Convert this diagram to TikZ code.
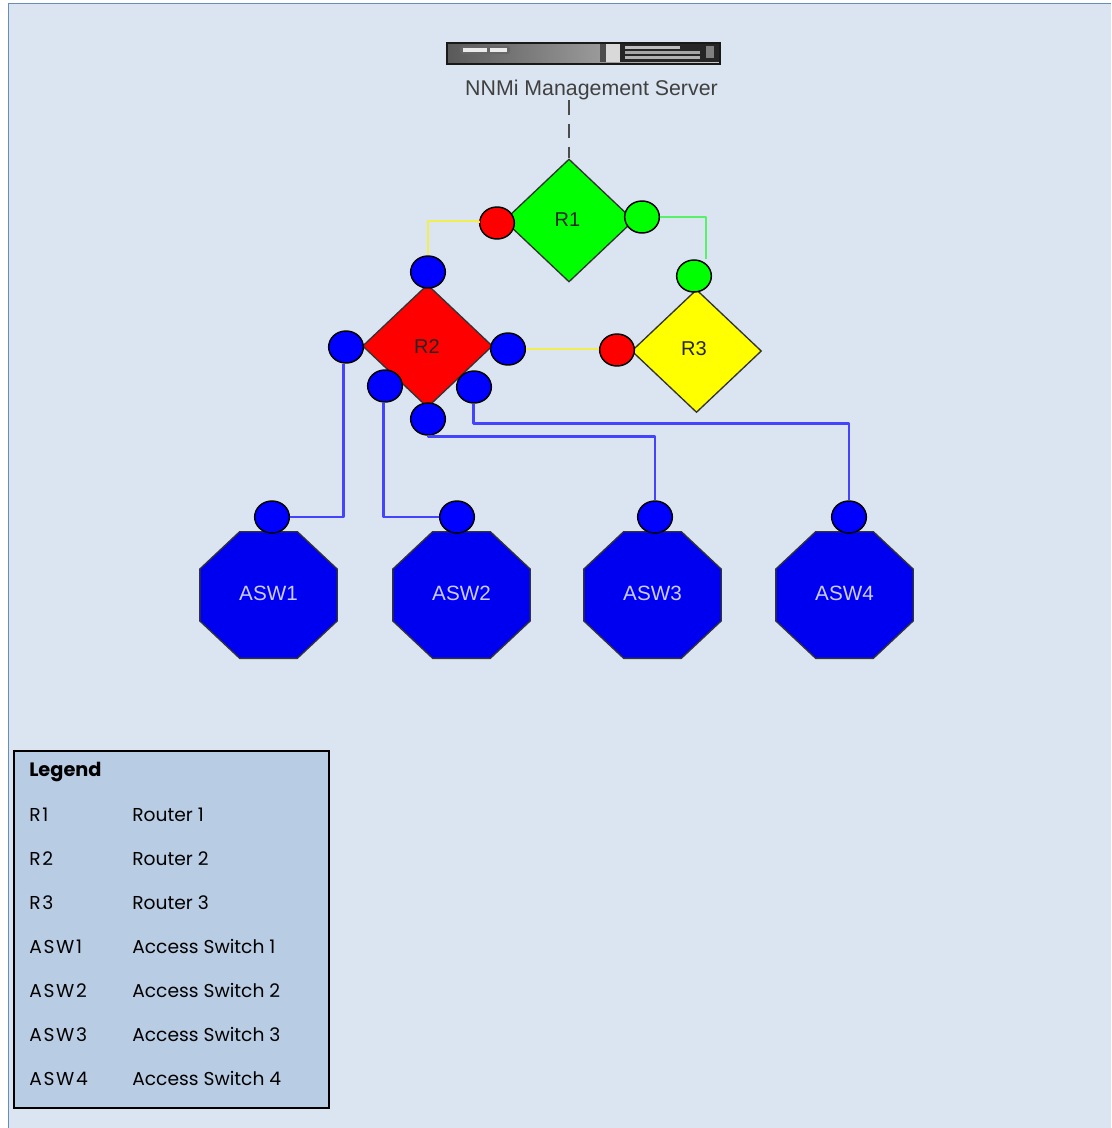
\documentclass[tikz,border=0pt]{standalone}
\usepackage{fontspec}
\setmainfont{Liberation Sans}
\newfontfamily\legendfont{Poppins}
\newfontfamily\legendkeyfont[LetterSpace=9]{Poppins}
\usetikzlibrary{shapes.geometric}
\definecolor{bgblue}{HTML}{DBE5F1}
\definecolor{legblue}{HTML}{B8CCE4}
\definecolor{framec}{HTML}{6A8CBA}
\definecolor{linkblue}{HTML}{4444FF}
\definecolor{linkyellow}{HTML}{F0EE50}
\definecolor{linkgreen}{HTML}{58F068}
\definecolor{asw}{HTML}{0000F0}
\definecolor{pure red}{HTML}{FF0000}
\definecolor{pure green}{HTML}{00FF00}
\definecolor{pure yellow}{HTML}{FFFF00}
\definecolor{pure blue}{HTML}{0000FF}
\makeatletter
\pgfdeclareshape{octobox}{%
  \inheritsavedanchors[from=rectangle]
  \inheritanchorborder[from=rectangle]
  \inheritanchor[from=rectangle]{center}
  \inheritanchor[from=rectangle]{north}
  \inheritanchor[from=rectangle]{south}
  \inheritanchor[from=rectangle]{west}
  \inheritanchor[from=rectangle]{east}
  \backgroundpath{%
    \southwest\pgf@xa=\pgf@x \pgf@ya=\pgf@y
    \northeast\pgf@xb=\pgf@x \pgf@yb=\pgf@y
    \pgf@xc=\pgf@xb \advance\pgf@xc by -\pgf@xa \pgf@xc=0.29\pgf@xc
    \pgf@yc=\pgf@yb \advance\pgf@yc by -\pgf@ya \pgf@yc=0.295\pgf@yc
    \pgfpathmoveto{\pgfqpoint{\dimexpr\pgf@xa+\pgf@xc}{\pgf@yb}}
    \pgfpathlineto{\pgfqpoint{\dimexpr\pgf@xb-\pgf@xc}{\pgf@yb}}
    \pgfpathlineto{\pgfqpoint{\pgf@xb}{\dimexpr\pgf@yb-\pgf@yc}}
    \pgfpathlineto{\pgfqpoint{\pgf@xb}{\dimexpr\pgf@ya+\pgf@yc}}
    \pgfpathlineto{\pgfqpoint{\dimexpr\pgf@xb-\pgf@xc}{\pgf@ya}}
    \pgfpathlineto{\pgfqpoint{\dimexpr\pgf@xa+\pgf@xc}{\pgf@ya}}
    \pgfpathlineto{\pgfqpoint{\pgf@xa}{\dimexpr\pgf@ya+\pgf@yc}}
    \pgfpathlineto{\pgfqpoint{\pgf@xa}{\dimexpr\pgf@yb-\pgf@yc}}
    \pgfpathclose}}
\makeatother
\tikzset{
  x=0.75pt,y=-0.75pt,
  router/.style={diamond,draw=black!80,line width=1pt,inner sep=0pt,minimum width=97.5pt,minimum height=92.25pt},
  routertext/.style={inner sep=0pt,font=\fontsize{15}{15}\selectfont,text=black!85},
  switchbox/.style={octobox,draw=black!80,fill=asw,line width=1pt,inner sep=0pt,minimum width=102pt,minimum height=94pt,font=\fontsize{15.5}{16}\selectfont,text=blue!20,text depth=3pt},
  port/.style={ellipse,draw=black,line width=1.1pt,inner sep=0pt,minimum width=26pt,minimum height=24pt},
  blueport/.style={port,fill=pure blue},
  redport/.style={port,fill=pure red},
  greenport/.style={port,fill=pure green},
  link/.style={line width=2.2pt,line join=round},
  leg/.style={anchor=base west,inner sep=0pt,font=\legendfont\fontsize{14}{16}\selectfont,text=black},
  legkey/.style={anchor=base west,inner sep=0pt,font=\legendkeyfont\fontsize{14}{16}\selectfont,text=black},
}
\begin{document}
\begin{tikzpicture}
\useasboundingbox (0,0) rectangle (1111,1128);
\fill[white] (0,0) rectangle (1111,1128);
\fill[bgblue] (8.5,3.5) rectangle (1111,1128);
\draw[framec,line width=1.2pt] (1111,3.5) -- (8.5,3.5) -- (8.5,1128);
% server
\node[draw=black!90,line width=1.5pt,inner sep=0pt,minimum width=204.75pt,minimum height=15.75pt,left color=black!65,right color=black!20] (srv) at (583.5,53) {};
\fill[black!60,rounded corners=2pt] (460,46) rectangle (510,54);
\fill[black!8] (463,48) rectangle (487,52);
\fill[black!8] (490,48) rectangle (507,52);
\fill[black!70] (600,44) rectangle (606,62);
\fill[black!15] (606,44) rectangle (620,62);
\fill[black!85] (620,44) rectangle (719,62);
\fill[black!25] (625,46) rectangle (680,49);
\fill[black!35] (625,51) rectangle (700,54);
\fill[black!30] (625,56) rectangle (700,59);
\fill[black!50] (706,46) rectangle (714,58);
\node[inner sep=0pt,font=\fontsize{16}{16}\selectfont,text=black!75] (srvlabel) at (591.5,90) {NNMi Management Server};
% routers
\node[router,fill=pure green] (r1) at (569,220.5) {};
\node[router,fill=pure red] (r2) at (427.5,346) {};
\node[router,fill=pure yellow] (r3) at (696.5,351) {};
\node[routertext] (r1text) at (567.5,220) {R1};
\node[routertext] (r2text) at (427,347) {R2};
\node[routertext] (r3text) at (694,349) {R3};
% switches
\node[switchbox] (a1) at (268.5,595) {ASW1};
\node[switchbox] (a2) at (461.5,595) {ASW2};
\node[switchbox] (a3) at (652.5,595) {ASW3};
\node[switchbox] (a4) at (844.5,595) {ASW4};
% links
\node[redport] (r1l) at (497,223) {};
\node[greenport] (r1r) at (642,217) {};
\node[greenport] (r3t) at (694,276) {};
\node[redport] (r3l) at (617,350) {};
\node[blueport] (r2t) at (428,272) {};
\node[blueport] (r2l) at (346,347) {};
\node[blueport] (r2r) at (508,349) {};
\node[blueport] (r2a) at (385,386) {};
\node[blueport] (r2b) at (474,387) {};
\node[blueport] (r2c) at (428,419) {};
\node[blueport] (p1) at (272,517) {};
\node[blueport] (p2) at (457,517) {};
\node[blueport] (p3) at (655,517) {};
\node[blueport] (p4) at (849,517) {};
\draw[link,linkyellow] (r1l.west) -- ++(0,-2) -| (r2t.north);
\draw[link,linkgreen] (r1r.east) -| ([xshift=9pt]r3t.north);
\draw[link,linkyellow] (r2r.east) -- (r2r.east -| r3l.west);
\draw[link,linkblue] ([xshift=-2pt]r2l.south) |- (p1.east);
\draw[link,linkblue] ([xshift=-1pt]r2a.south) |- (p2.west);
\draw[link,linkblue] (r2c.south) -- ++(0,1) -| (p3.north);
\draw[link,linkblue] ([xshift=-0.5pt]r2b.south) -- ++(0,20) -| (p4.north);
% dashed
\draw[black!70,line width=1.5pt,dash pattern=on 11pt off 6.5pt] (srvlabel.south -| r1.north) -- (r1.north);
% legend
\node[draw=black,line width=1.5pt,fill=legblue,inner sep=0pt,minimum width=236pt,minimum height=267.5pt] (legend) at (171.5,929.5) {};
\node[leg,font=\legendfont\bfseries\fontsize{14.5}{16}\selectfont] (lh) at (29,776) {Legend};
\node[legkey] (k1) at (29,821) {R1}; \node[leg] (v1) at (132,821) {Router 1};
\node[legkey] (k2) at (29,865) {R2}; \node[leg] (v2) at (132,865) {Router 2};
\node[legkey] (k3) at (29,909) {R3}; \node[leg] (v3) at (132,909) {Router 3};
\node[legkey] (k4) at (29,953) {ASW1}; \node[leg] (v4) at (132,953) {Access Switch 1};
\node[legkey] (k5) at (29,997) {ASW2}; \node[leg] (v5) at (132,997) {Access Switch 2};
\node[legkey] (k6) at (29,1041) {ASW3}; \node[leg] (v6) at (132,1041) {Access Switch 3};
\node[legkey] (k7) at (29,1085) {ASW4}; \node[leg] (v7) at (132,1085) {Access Switch 4};
\end{tikzpicture}
\end{document}
